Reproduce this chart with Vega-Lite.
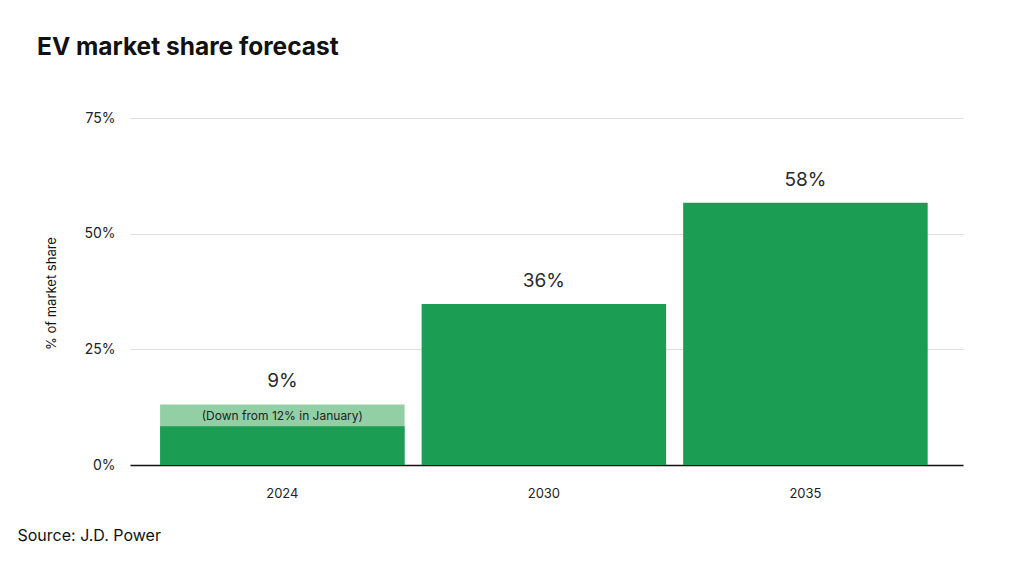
{
  "$schema": "https://vega.github.io/schema/vega-lite/v6.json",
  "autosize": {"type": "none"},
  "padding": {"left": 130, "top": 118, "right": 61, "bottom": 100},
  "width": 833,
  "height": 347,
  "background": "white",
  "config": {
    "font": "Inter",
    "view": {"stroke": null}
  },
  "title": {
    "text": "EV market share forecast",
    "anchor": "start",
    "frame": "group",
    "dx": -93,
    "offset": 51,
    "fontSize": 24.5,
    "fontWeight": "bold",
    "color": "#111111",
    "font": "Inter"
  },
  "data": {
    "values": [
      {"year": "2024", "value": 8.4, "jan": 13.1, "label": "9%", "note": "(Down from 12% in January)"},
      {"year": "2030", "value": 34.8, "label": "36%"},
      {"year": "2035", "value": 56.7, "label": "58%"}
    ]
  },
  "encoding": {
    "x": {
      "field": "year",
      "type": "nominal",
      "scale": {"paddingInner": 0.065, "paddingOuter": 0.125, "align": 0.46},
      "axis": {
        "labelAngle": 0,
        "labelFontSize": 13,
        "labelColor": "#222222",
        "labelPadding": 22,
        "ticks": false,
        "domainColor": "#111111",
        "domainWidth": 1.6,
        "title": "Source: J.D. Power",
        "titleFontSize": 16,
        "titleFontWeight": "normal",
        "titleColor": "#111111",
        "titleAlign": "left",
        "titleAnchor": "start",
        "titleBaseline": "middle",
        "titleX": -113,
        "titleY": 70
      }
    }
  },
  "layer": [
    {
      "transform": [{"filter": "isValid(datum.jan)"}],
      "mark": {"type": "bar", "color": "#93cfa5"},
      "encoding": {
        "y": {
          "field": "jan",
          "type": "quantitative",
          "scale": {"domain": [0, 75], "nice": false, "zero": true},
          "axis": {
            "values": [0, 25, 50, 75],
            "labelExpr": "datum.value + '%'",
            "labelFontSize": 14,
            "labelColor": "#222222",
            "labelPadding": 15,
            "ticks": false,
            "domain": false,
            "gridColor": "#dddddd",
            "gridWidth": 1,
            "title": "% of market share",
            "titleFontSize": 13,
            "titleFontWeight": "normal",
            "titleColor": "#111111",
            "titleAngle": -90,
            "titleAlign": "center",
            "titleBaseline": "middle",
            "titleX": -79,
            "titleY": 175
          }
        }
      }
    },
    {
      "mark": {"type": "bar", "color": "#1b9e53"},
      "encoding": {
        "y": {"field": "value", "type": "quantitative", "scale": {"domain": [0, 75], "nice": false}}
      }
    },
    {
      "transform": [{"filter": "isValid(datum.jan)"}],
      "mark": {"type": "text", "fontSize": 12, "color": "#222222", "baseline": "middle", "dy": 12},
      "encoding": {
        "y": {"field": "jan", "type": "quantitative", "scale": {"domain": [0, 75], "nice": false}},
        "text": {"field": "note"}
      }
    },
    {
      "transform": [{"filter": "isValid(datum.jan)"}],
      "mark": {"type": "text", "fontSize": 19, "color": "#2a2a2a", "baseline": "middle", "dy": -23},
      "encoding": {
        "y": {"field": "jan", "type": "quantitative", "scale": {"domain": [0, 75], "nice": false}},
        "text": {"field": "label"}
      }
    },
    {
      "transform": [{"filter": "!isValid(datum.jan)"}],
      "mark": {"type": "text", "fontSize": 19, "color": "#2a2a2a", "baseline": "middle", "dy": -23},
      "encoding": {
        "y": {"field": "value", "type": "quantitative", "scale": {"domain": [0, 75], "nice": false}},
        "text": {"field": "label"}
      }
    }
  ]
}
